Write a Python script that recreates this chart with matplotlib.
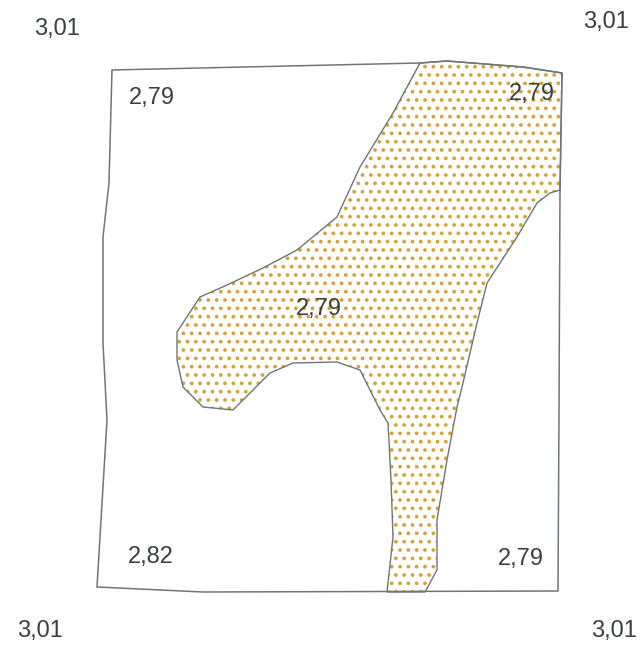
import matplotlib
matplotlib.use("Agg")
import matplotlib.pyplot as plt
from matplotlib.patches import Polygon

plt.rcParams['font.family'] = ['Liberation Sans', 'DejaVu Sans']
plt.rcParams['hatch.linewidth'] = 1.5

# outline of the parcel (pixel coords of the sheet, y downwards)
outer_x = [112, 420, 447, 523, 562, 560, 559, 558, 203, 97, 107, 103, 103, 109]
outer_y = [70, 63, 61, 67, 73, 190, 410, 591, 592, 587, 420, 343, 237, 183]

# stippled zone
zone_x = [420, 447, 523, 562, 560, 550, 537, 517, 487, 477, 463, 457, 447, 437,
          437, 425, 387, 393, 391, 388, 380, 360, 337, 293, 270, 233, 203, 183,
          177, 177, 200, 227, 263, 297, 337, 360, 393]
zone_y = [63, 61, 67, 73, 190, 193, 203, 237, 283, 323, 383, 407, 460, 520,
          570, 592, 592, 537, 480, 423, 410, 370, 362, 363, 373, 410, 407, 387,
          360, 332, 297, 285, 268, 250, 217, 167, 113]

# spot values
label_text = ['3,01', '3,01', '3,01', '3,01', '2,79', '2,79', '2,79', '2,82', '2,79']
label_x = [57, 606, 40, 614, 152, 532, 319, 151, 521]
label_y = [29, 22, 631, 631, 98, 94, 309, 557, 559]

fig = plt.figure(figsize=(6.4, 6.48), dpi=100)
ax = fig.add_axes([0, 0, 1, 1])
ax.set_xlim(0, 640)
ax.set_ylim(648, 0)
ax.set_axis_off()

pts = list(zip(zone_x, zone_y))
# stipple (hatch takes the edge colour, so draw it on its own)
ax.add_patch(Polygon(pts, closed=True, facecolor='white', edgecolor='#d4a33a',
                     linewidth=0, hatch='..'))
ax.add_patch(Polygon(pts, closed=True, fill=False, edgecolor='#6f7676', linewidth=1.0))

outer = Polygon(list(zip(outer_x, outer_y)), closed=True, fill=False,
                edgecolor='#6f7676', linewidth=1.1)
ax.add_patch(outer)

for t, x, y in zip(label_text, label_x, label_y):
    ax.text(x, y, t, fontsize=17, color='#3b3f40', ha='center', va='center')

fig.savefig('out.png', dpi=100)
